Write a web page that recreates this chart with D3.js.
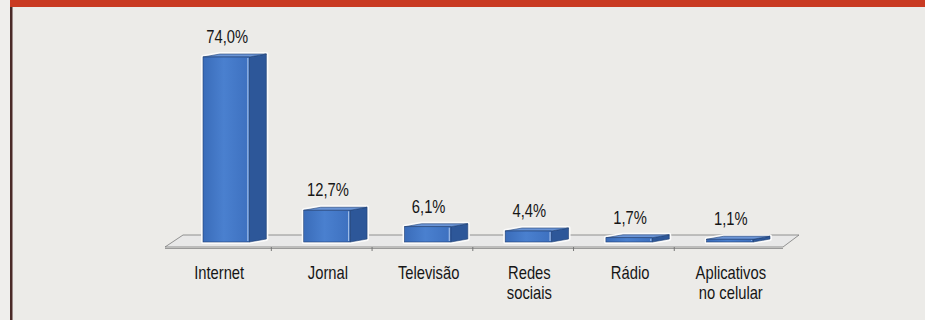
<!DOCTYPE html>
<html>
<head>
<meta charset="utf-8">
<script src="https://cdn.jsdelivr.net/npm/d3@7"></script>
<style>
  body { margin: 0; background: #ecebe8; }
  svg { display: block; }
  text { font-family: "Liberation Sans", Arial, sans-serif; fill: #161616; }
</style>
</head>
<body>
<div id="chart"></div>
<script>
// data
const categories = ["Internet", "Jornal", "Televisão", "Redes sociais", "Rádio", "Aplicativos no celular"];
const labelLines = [["Internet"], ["Jornal"], ["Televisão"], ["Redes", "sociais"], ["Rádio"], ["Aplicativos", "no celular"]];
const values = [74.0, 12.7, 6.1, 4.4, 1.7, 1.1];
const valueLabels = ["74,0%", "12,7%", "6,1%", "4,4%", "1,7%", "1,1%"];

const width = 925;
const height = 320;
const base = 242;

const svg = d3.select("#chart")
  .append("svg")
  .attr("width", width)
  .attr("height", height);

// page frame
svg.append("rect").attr("width", width).attr("height", height).attr("fill", "#ecebe8");
svg.append("rect").attr("x", 0).attr("y", 0).attr("width", width).attr("height", 7).attr("fill", "#c93a22");
svg.append("rect").attr("x", 10).attr("y", 7).attr("width", 2.5).attr("height", 313).attr("fill", "#4a2a28");
svg.append("rect").attr("x", 0).attr("y", 0).attr("width", 10).attr("height", height).attr("fill", "#efeeec");

const data = categories.map((c, i) => ({cat: c, lines: labelLines[i], value: values[i], label: valueLabels[i]}));

const x = d3.scaleBand()
  .domain(categories)
  .range([203, 753])
  .paddingInner(0.54)
  .paddingOuter(0)
  .align(0);

const y = d3.scaleLinear()
  .domain([0, 74])
  .range([base, 57]);

const bw = x.bandwidth();
const dx = 17, dy = 3;

// floor
const x0 = x.range()[0], x1 = x.range()[1];
const floor = [[x0 - 38, base + 5], [x1 + 30, base + 5], [x1 + 46, base - 7], [x0 - 20, base - 7]];
svg.append("polygon")
  .attr("points", floor.map(p => p.join(",")).join(" "))
  .attr("fill", "#e8e8e8")
  .attr("stroke", "#7a7a7a")
  .attr("stroke-width", 0.8);
svg.append("line")
  .attr("x1", x0 - 38).attr("x2", x1 + 30)
  .attr("y1", base + 6.5).attr("y2", base + 6.5)
  .attr("stroke", "#9a9a9a").attr("stroke-width", 1);

// ticks between categories
svg.selectAll(".tick")
  .data(categories.slice(0, -1))
  .enter()
  .append("line")
  .attr("x1", d => x(d) + bw + 22)
  .attr("x2", d => x(d) + bw + 22)
  .attr("y1", base + 5)
  .attr("y2", base + 9)
  .attr("stroke", "#777");

const defs = svg.append("defs");
const grad = defs.append("linearGradient").attr("id", "front").attr("x1", 0).attr("x2", 1).attr("y1", 0).attr("y2", 0);
grad.append("stop").attr("offset", "0%").attr("stop-color", "#3a6cb9");
grad.append("stop").attr("offset", "45%").attr("stop-color", "#4a80cf");
grad.append("stop").attr("offset", "100%").attr("stop-color", "#3d70bf");

const bars = svg.selectAll(".bar")
  .data(data)
  .enter()
  .append("g")
  .attr("class", "bar");

// white halo
bars.append("polygon")
  .attr("points", d => {
    const l = x(d.cat), r = l + bw, t = y(d.value);
    return [[l, t], [l + dx, t - dy], [r + dx, t - dy], [r + dx, base - dy], [r, base], [l, base]].map(p => p.join(",")).join(" ");
  })
  .attr("fill", "none")
  .attr("stroke", "#fbfbfb")
  .attr("stroke-width", 4)
  .attr("stroke-linejoin", "round");

bars.append("polygon")
  .attr("points", d => {
    const r = x(d.cat) + bw, t = y(d.value);
    return [[r, t], [r + dx, t - dy], [r + dx, base - dy], [r, base]].map(p => p.join(",")).join(" ");
  })
  .attr("fill", "#2d5799")
  .attr("stroke", "#1f3f73")
  .attr("stroke-width", 0.6);

bars.append("polygon")
  .attr("points", d => {
    const l = x(d.cat), r = l + bw, t = y(d.value);
    return [[l, t], [l + dx, t - dy], [r + dx, t - dy], [r, t]].map(p => p.join(",")).join(" ");
  })
  .attr("fill", "#6b95d6")
  .attr("stroke", "#1f3f73")
  .attr("stroke-width", 0.6);

bars.append("rect")
  .attr("x", d => x(d.cat))
  .attr("y", d => y(d.value))
  .attr("width", bw)
  .attr("height", d => base - y(d.value))
  .attr("fill", "url(#front)")
  .attr("stroke", "#1f3f73")
  .attr("stroke-width", 0.6);

bars.append("line")
  .attr("x1", d => x(d.cat) + bw - 1.5)
  .attr("x2", d => x(d.cat) + bw - 1.5)
  .attr("y1", d => y(d.value) + 1)
  .attr("y2", base - 1)
  .attr("stroke", "#9dbbe6")
  .attr("stroke-width", 1.2);

// value labels (condensed look via horizontal scale)
svg.selectAll(".val")
  .data(data)
  .enter()
  .append("text")
  .attr("text-anchor", "middle")
  .attr("font-size", 18)
  .attr("transform", d => `translate(${x(d.cat) + bw / 2 + 1}, ${y(d.value) - 14}) scale(0.82, 1)`)
  .text(d => d.label);

// category labels
const cats = svg.selectAll(".cat")
  .data(data)
  .enter()
  .append("text")
  .attr("text-anchor", "middle")
  .attr("font-size", 18)
  .attr("transform", d => `translate(${x(d.cat) + bw / 2 + (d.cat === "Internet" ? -7 : 1)}, 279) scale(0.82, 1)`);

cats.selectAll("tspan")
  .data(d => d.lines)
  .enter()
  .append("tspan")
  .attr("x", 0)
  .attr("dy", (d, i) => i === 0 ? 0 : 20)
  .text(d => d);
</script>
</body>
</html>
